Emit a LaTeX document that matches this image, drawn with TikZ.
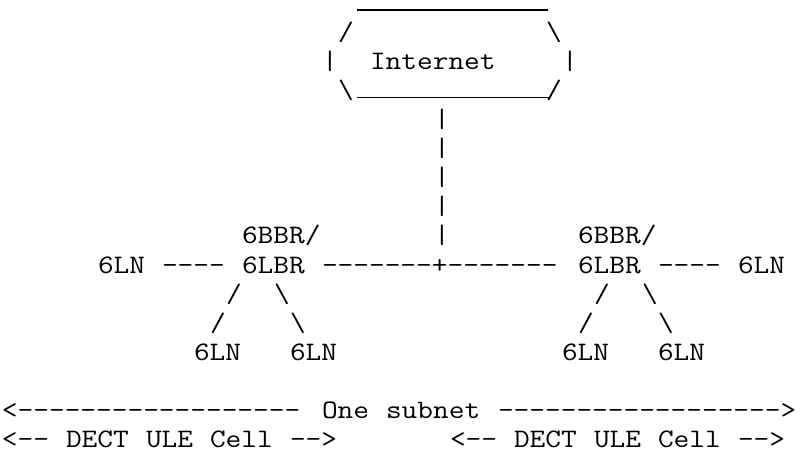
\documentclass[tikz,border=0pt]{standalone}
\usepackage{fontspec}
\usepackage{graphicx}
\newcommand\asc[1]{\scalebox{1.143}[1]{\ttfamily\fontsize{26.67bp}{29.1bp}\selectfont #1}}
\newcommand\dashes[1]{\foreach\i in {1,...,#1}{-\kern0pt}}
\newcommand\tk[4]{\node[tok] (#1) at (#2,#3) {\asc{#4}};}
\tikzset{tok/.style={inner sep=0pt, outer sep=0pt, anchor=base west, text=black},
  underline/.style={draw=black, line width=1.3bp}}
\begin{document}
\begin{tikzpicture}
\fill[white] (0,0) rectangle (803bp,-453bp);
\useasboundingbox (0,0) rectangle (803bp,-453bp);
% Internet cloud top and bottom edges
\coordinate (ta) at (357bp,-10bp);
\coordinate (tb) at (548bp,-10bp);
\coordinate (ba) at (357bp,-97.5bp);
\coordinate (bb) at (549bp,-97.5bp);
\draw[underline] (ta) -- (tb);
\draw[underline] (ba) -- (bb);
\begin{scope}[x=16bp, y=-29.1bp, shift={(2bp,18bp)}]
\tk{cnw}{21}{2}{/}
\tk{cne}{34}{2}{\textbackslash}
\tk{cw}{20}{3}{|}
\tk{inet}{23}{3}{Internet}
\tk{ce}{35}{3}{|}
\tk{csw}{21}{4}{\textbackslash}
\tk{cse}{34}{4}{/}
% uplink
\tk{v5}{27}{5}{|}
\tk{v6}{27}{6}{|}
\tk{v7}{27}{7}{|}
\tk{v8}{27}{8}{|}
\tk{v9}{27}{9}{|}
% routers
\tk{bbrL}{15}{9}{6BBR/}
\tk{bbrR}{36}{9}{6BBR/}
\tk{lnL}{6}{10}{6LN}
\tk{dL}{10}{10}{\dashes{4}}
\tk{lbrL}{15}{10}{6LBR}
\tk{bus}{20}{10}{\dashes{7}+\dashes{7}}
\tk{lbrR}{36}{10}{6LBR}
\tk{dR}{41}{10}{\dashes{4}}
\tk{lnR}{46}{10}{6LN}
% left tree
\tk{a1}{14}{11}{/}
\tk{a2}{17}{11}{\textbackslash}
\tk{a3}{13}{12}{/}
\tk{a4}{18}{12}{\textbackslash}
\tk{lnLa}{12}{13}{6LN}
\tk{lnLb}{18}{13}{6LN}
% right tree
\tk{b1}{37}{11}{/}
\tk{b2}{40}{11}{\textbackslash}
\tk{b3}{36}{12}{/}
\tk{b4}{41}{12}{\textbackslash}
\tk{lnRa}{35}{13}{6LN}
\tk{lnRb}{41}{13}{6LN}
% subnet
\tk{sl}{0}{15}{<\dashes{18}}
\tk{s1}{20}{15}{One}
\tk{s2}{24}{15}{subnet}
\tk{sr}{31}{15}{\dashes{18}>}
% cells
\tk{c1a}{0}{16}{<\dashes{2}}
\tk{c1b}{4}{16}{DECT}
\tk{c1c}{9}{16}{ULE}
\tk{c1d}{13}{16}{Cell}
\tk{c1e}{18}{16}{\dashes{2}>}
\tk{c2a}{28}{16}{<\dashes{2}}
\tk{c2b}{32}{16}{DECT}
\tk{c2c}{37}{16}{ULE}
\tk{c2d}{41}{16}{Cell}
\tk{c2e}{46}{16}{\dashes{2}>}
\end{scope}
\end{tikzpicture}
\end{document}
